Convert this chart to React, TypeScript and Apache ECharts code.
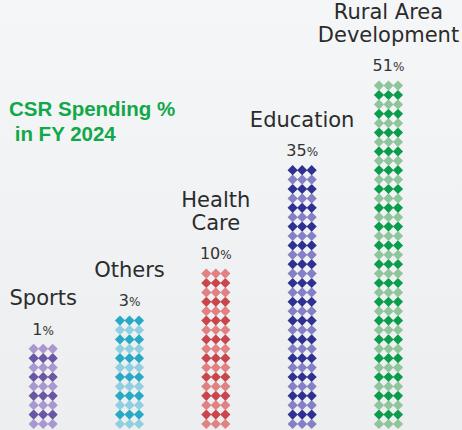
import React, { useEffect, useRef } from "react";
import * as echarts from "echarts";

const categories = ["Sports", "Others", "Health\nCare", "Education", "Rural Area\nDevelopment"];
const percentages = [1, 3, 10, 35, 51];
// number of diamond rows in each column
const diamondRows = [9, 12, 17, 28, 37];
const darkColors = ["#6b55a5", "#27aac6", "#c9474c", "#2e3192", "#0a9e4a"];
const lightColors = ["#a998cf", "#8fcfe0", "#e08183", "#8580c5", "#8fc59a"];
const titleText = "CSR Spending %\n in FY 2024";

export default function App() {
  const ref = useRef<HTMLDivElement>(null);
  useEffect(() => {
    if (!ref.current) return;
    const chart = echarts.init(ref.current, null, { renderer: "svg" });
    const data = categories.map((c, i) => [i, diamondRows[i], percentages[i]]);
    chart.setOption({
      animation: false,
      backgroundColor: {
        type: "linear", x: 0, y: 0, x2: 0, y2: 1,
        colorStops: [
          { offset: 0, color: "#f5f6f7" },
          { offset: 1, color: "#eceeef" },
        ],
      },
      title: {
        text: titleText,
        left: 9,
        top: 96,
        padding: 0,
        textStyle: {
          color: "#12a84a",
          fontFamily: "Liberation Sans",
          fontWeight: "bold",
          fontSize: 20.5,
          lineHeight: 25,
        },
      },
      grid: { left: -2.1, right: 30.35, top: 5.7, bottom: 1.3 },
      xAxis: {
        type: "category",
        data: categories,
        show: false,
      },
      yAxis: { type: "value", min: 0, max: 45, show: false },
      series: [
        {
          type: "custom",
          clip: false,
          data,
          renderItem: (params: any, api: any) => {
            const idx = api.value(0);
            const rows = api.value(1);
            const pct = api.value(2);
            const base = api.coord([idx, 0]);
            const pitchY = api.size([0, 1])[1];
            const pitchX = 9.5;
            const hw = 5.1;
            const hh = 5.1;
            const children: any[] = [];
            for (let r = 0; r < rows; r++) {
              const cy = base[1] - (r + 0.5) * pitchY;
              for (let c = -1; c <= 1; c++) {
                const cx = base[0] + c * pitchX;
                const isDark = (r + Math.abs(c)) % 2 === 0 ? c !== 0 : c === 0;
                children.push({
                  type: "polygon",
                  shape: {
                    points: [
                      [cx, cy - hh],
                      [cx + hw, cy],
                      [cx, cy + hh],
                      [cx - hw, cy],
                    ],
                  },
                  style: { fill: isDark ? darkColors[idx] : lightColors[idx] },
                });
              }
            }
            const topY = base[1] - rows * pitchY;
            const pctY = topY - 15;
            children.push({
              type: "text",
              style: {
                x: base[0],
                y: pctY,
                text: `{a|${pct}}{b|%}`,
                align: "center",
                verticalAlign: "middle",
                rich: {
                  a: { fontSize: 16, fontFamily: "DejaVu Sans", fill: "#333", color: "#333" },
                  b: { fontSize: 12, fontFamily: "DejaVu Sans", fill: "#333", color: "#333", padding: [3, 0, 0, 0] },
                },
              },
            });
            children.push({
              type: "text",
              style: {
                x: base[0],
                y: pctY - 31 + 11.5,
                text: categories[idx],
                align: "center",
                verticalAlign: "bottom",
                fontSize: 21,
                lineHeight: 23,
                fontFamily: "DejaVu Sans",
                fill: "#2b2b2b",
              },
            });
            return { type: "group", children };
          },
        },
      ],
    });
    return () => chart.dispose();
  }, []);
  return (
    <div
      ref={ref}
      style={{ position: "fixed", left: 0, top: 0, width: 462, height: 430 }}
    />
  );
}
